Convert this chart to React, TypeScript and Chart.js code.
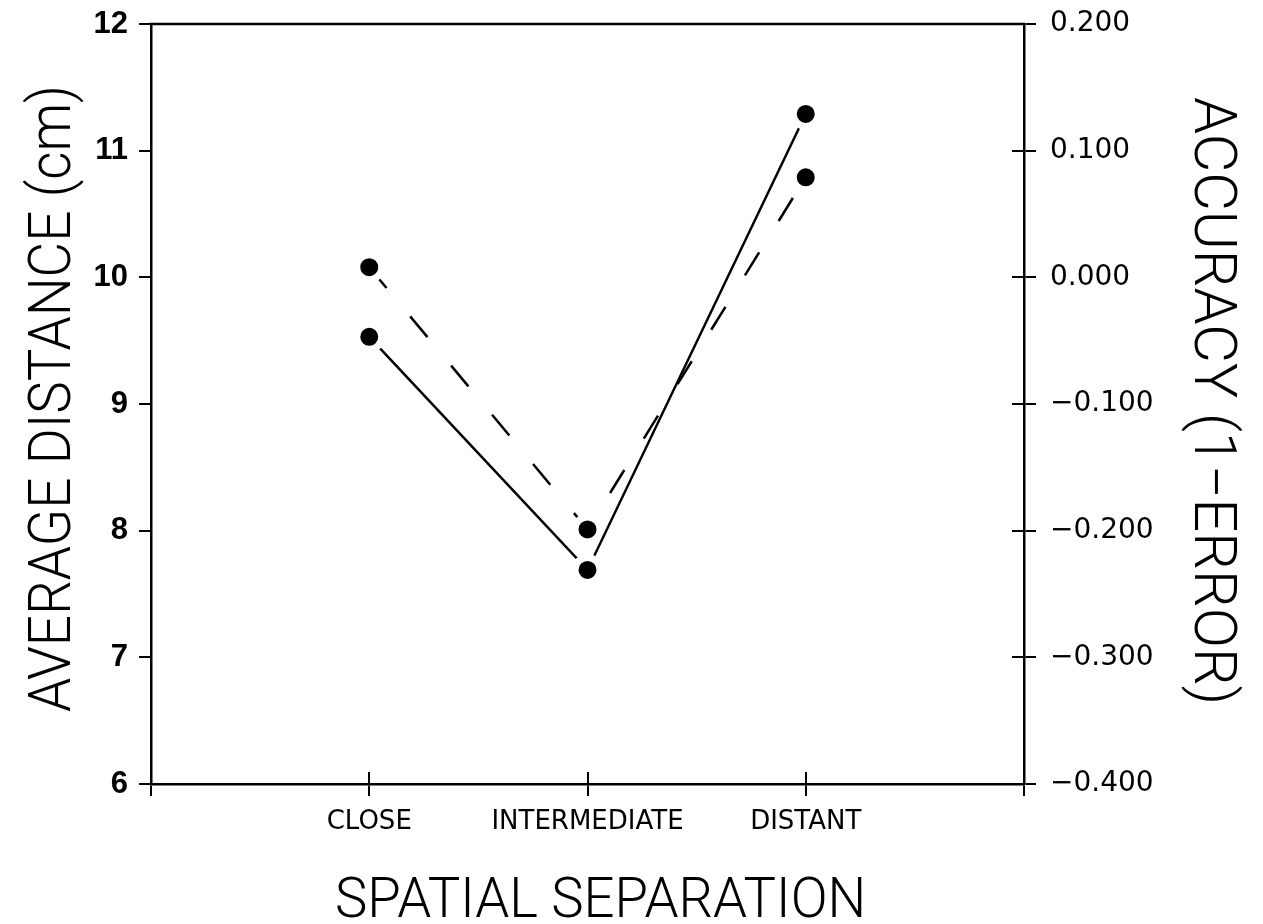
import React, { useEffect, useRef } from 'react';
import { Chart, registerables } from 'chart.js';

Chart.register(...registerables);

// ---- data ----
const categories = ['CLOSE', 'INTERMEDIATE', 'DISTANT'];
const categoryPositions = [1, 2, 3];
const xTickPositions = [0, 1, 2, 3, 4];
const averageDistance = [9.53, 7.69, 11.29]; // solid line, left axis (cm)
const accuracy = [0.008, -0.199, 0.079]; // dashed line, right axis (1-error)
const distanceTicks = [6, 7, 8, 9, 10, 11, 12];
const accuracyTicks = [-0.4, -0.3, -0.2, -0.1, 0, 0.1, 0.2];
const xTitle = 'SPATIAL SEPARATION';
const yTitle = 'AVERAGE DISTANCE (cm)';
const y1Title = 'ACCURACY (1\u2212ERROR)';

const TITLE_FONT = "Roboto, 'Open Sans', 'DejaVu Sans', sans-serif";

function drawTitle(
  ctx: CanvasRenderingContext2D,
  text: string,
  x: number,
  y: number,
  rot: number,
  size: number,
  length: number
) {
  ctx.save();
  ctx.translate(x, y);
  ctx.rotate(rot);
  ctx.font = `300 ${size}px ${TITLE_FONT}`;
  const w = ctx.measureText(text).width;
  ctx.scale(length / w, 1);
  ctx.textAlign = 'left';
  ctx.textBaseline = 'alphabetic';
  ctx.fillStyle = '#000';
  ctx.fillText(text, 0, 0);
  ctx.restore();
}

const framePlugin = {
  id: 'frame',
  afterDraw(chart: any) {
    const { ctx, chartArea: a, scales } = chart;
    ctx.save();
    ctx.strokeStyle = '#000';
    ctx.lineWidth = 2.5;
    ctx.beginPath();
    ctx.moveTo(a.left - 1, a.top);
    ctx.lineTo(a.right + 1, a.top);
    ctx.stroke();
    ctx.lineWidth = 2;
    ctx.beginPath();
    scales.x.ticks.forEach((t: any) => {
      const px = Math.round(scales.x.getPixelForValue(t.value));
      ctx.moveTo(px, a.bottom);
      ctx.lineTo(px, a.bottom - 12);
    });
    scales.y1.ticks.forEach((t: any) => {
      const py = Math.round(scales.y1.getPixelForValue(t.value));
      ctx.moveTo(a.right, py);
      ctx.lineTo(a.right - 12, py);
    });
    ctx.stroke();
    ctx.restore();

    // axis titles
    ctx.save();
    ctx.font = `300 56px ${TITLE_FONT}`;
    const spatialW = ctx.measureText('SPATIAL').width;
    const fullW = ctx.measureText(xTitle).width;
    ctx.restore();
    drawTitle(ctx, xTitle, 335, 917, 0, 56, (fullW * 203) / spatialW);
    drawTitle(ctx, yTitle, 70, 712, -Math.PI / 2, 59, 627);
    drawTitle(ctx, y1Title, 1195, 97, Math.PI / 2, 59, 608);
  },
};

const gridOpts = {
  drawOnChartArea: false,
  drawTicks: true,
  tickLength: 12,
  color: '#000',
  lineWidth: 2,
};
const borderOpts = { display: true, color: '#000', width: 2.5 };

export default function App() {
  const ref = useRef<HTMLCanvasElement | null>(null);

  useEffect(() => {
    if (!ref.current) return;
    const pointStyle = {
      pointRadius: 12.5,
      pointBorderWidth: 7,
      pointBorderColor: '#fff',
      pointBackgroundColor: '#000',
    };
    const chart = new Chart(ref.current, {
      type: 'line',
      data: {
        datasets: [
          {
            label: 'Average distance',
            data: categoryPositions.map((x, i) => ({ x, y: averageDistance[i] })),
            yAxisID: 'y',
            borderColor: '#000',
            borderWidth: 2.5,
            tension: 0,
            ...pointStyle,
            clip: false as any,
          },
          {
            label: 'Accuracy',
            data: categoryPositions.map((x, i) => ({ x, y: accuracy[i] })),
            yAxisID: 'y1',
            borderColor: '#000',
            borderWidth: 2.5,
            borderDash: [27, 37],
            tension: 0,
            ...pointStyle,
            clip: false as any,
          },
        ],
      },
      options: {
        responsive: false,
        animation: false,
        devicePixelRatio: 1,
        layout: { padding: { top: 24, left: 0, right: 0, bottom: 0 } },
        plugins: { legend: { display: false }, tooltip: { enabled: false } },
        scales: {
          x: {
            type: 'linear',
            position: 'bottom',
            min: 0,
            max: 4,
            afterBuildTicks: (s: any) => {
              s.ticks = xTickPositions.map((v) => ({ value: v }));
            },
            afterFit: (s: any) => {
              s.height = 140;
              s.paddingLeft = 0;
              s.paddingRight = 0;
            },
            ticks: {
              autoSkip: false,
              maxRotation: 0,
              padding: 11,
              color: '#000',
              font: { family: "'DejaVu Sans', sans-serif", size: 26 },
              callback: (v: any) => {
                const i = categoryPositions.indexOf(Number(v));
                return i >= 0 ? categories[i] : '';
              },
            },
            grid: gridOpts,
            border: borderOpts,
          },
          y: {
            type: 'linear',
            position: 'left',
            min: 6,
            max: 12,
            afterBuildTicks: (s: any) => {
              s.ticks = distanceTicks.map((v) => ({ value: v }));
            },
            afterFit: (s: any) => {
              s.width = 151;
              s.paddingTop = 0;
              s.paddingBottom = 0;
            },
            ticks: {
              padding: 11,
              color: '#000',
              font: { family: "'Liberation Sans', Arial, sans-serif", size: 31, weight: 'bold' },
              callback: (v: any) => String(v),
            },
            grid: gridOpts,
            border: borderOpts,
          },
          y1: {
            type: 'linear',
            position: 'right',
            min: -0.4,
            max: 0.2,
            afterBuildTicks: (s: any) => {
              s.ticks = accuracyTicks.map((v) => ({ value: v }));
            },
            afterFit: (s: any) => {
              s.width = 239;
              s.paddingTop = 0;
              s.paddingBottom = 0;
            },
            ticks: {
              padding: 14,
              color: '#000',
              font: { family: "'DejaVu Sans', sans-serif", size: 28 },
              callback: (v: any) => {
                const n = Number(v);
                const s = Math.abs(n).toFixed(3);
                return n < -1e-9 ? '\u2212' + s : s;
              },
            },
            grid: gridOpts,
            border: borderOpts,
          },
        },
      } as any,
      plugins: [framePlugin],
    });
    return () => chart.destroy();
  }, []);

  return (
    <div style={{ position: 'fixed', left: 0, top: 0, width: 1263, height: 924, background: '#fff' }}>
      <canvas ref={ref} width={1263} height={924} style={{ display: 'block' }} />
    </div>
  );
}
